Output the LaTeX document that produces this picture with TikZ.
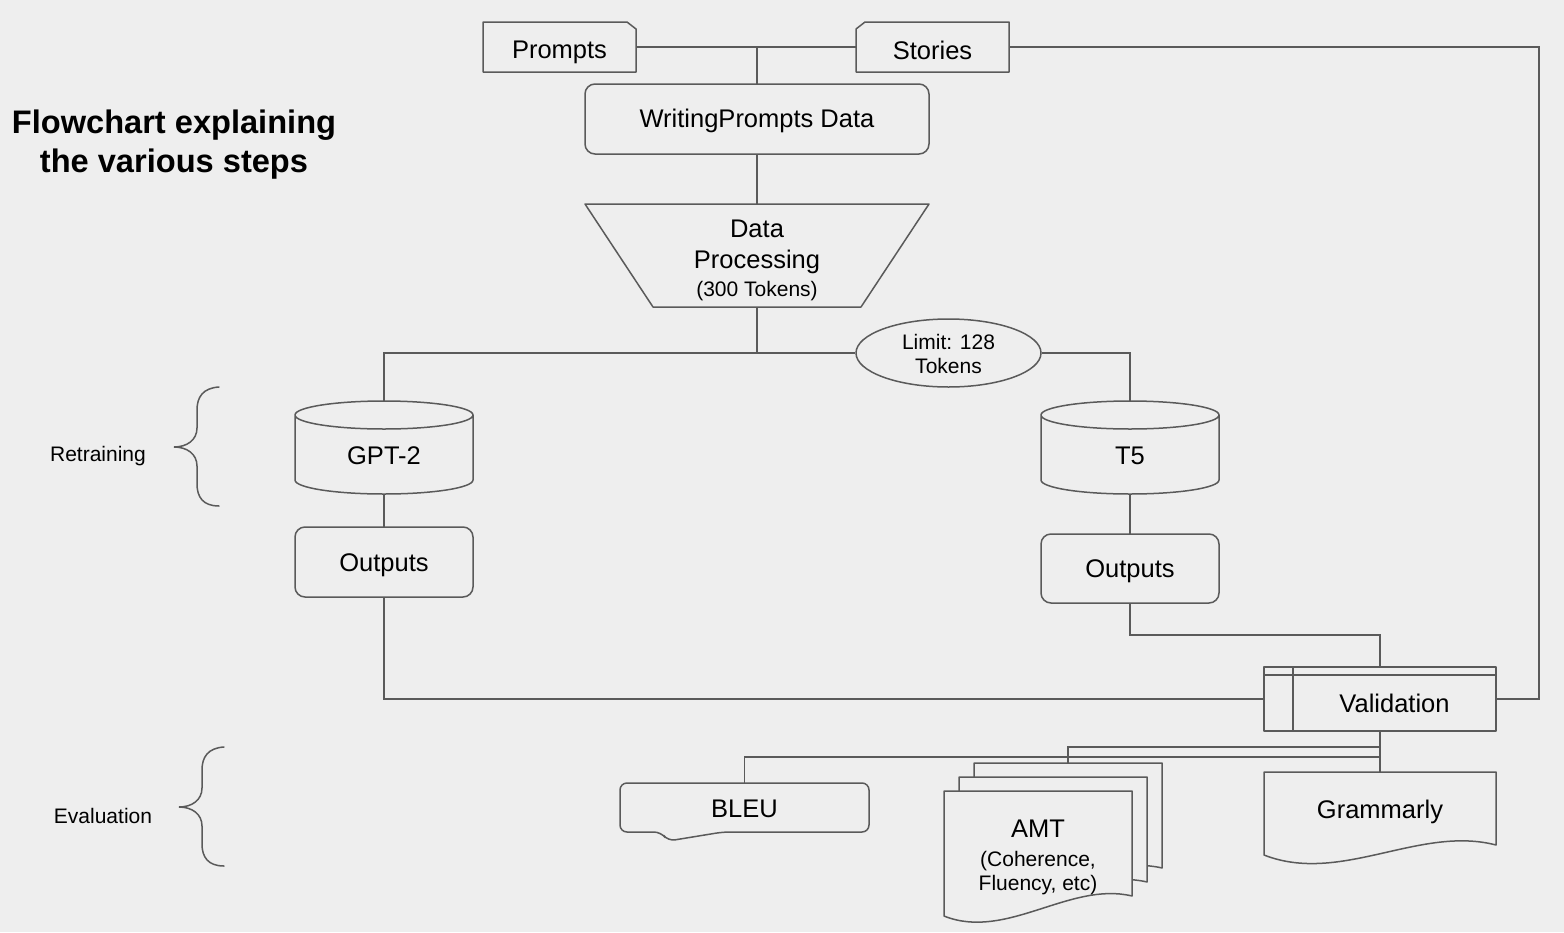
\documentclass[tikz,border=0pt]{standalone}
\usepackage{fontspec}
\setmainfont{Liberation Sans}
\usetikzlibrary{calc,backgrounds,shapes.geometric}
\definecolor{bg}{HTML}{EEEEEE}
\definecolor{lc}{HTML}{5A5A5A}
\newcommand\fmain{\fontsize{25.5}{30.6}\selectfont}
\newcommand\fsmall{\fontsize{21}{24.5}\selectfont}
\newcommand\ftitle{\fontsize{32.6}{39}\selectfont\bfseries}
\pgfdeclarelayer{shapes}
\pgfsetlayers{background,shapes,main}
\tikzset{
  ln/.style={draw=lc, line width=1.5pt},
  sh/.style={ln, fill=bg, line join=round},
  hold/.style={inner sep=0pt, outer sep=0pt, font=\fmain, align=center},
  rbox/.style={sh, rounded corners=10pt, inner sep=0pt, outer sep=0pt, font=\fmain, align=center},
  pics/curlybrace/.style={code={
    \draw[ln, line cap=round] (45,-60) .. controls (29,-59) and (23,-50) .. (23,-37) -- (23,-19)
      .. controls (23,-7) and (13,0) .. (0,0) .. controls (13,0) and (23,7) .. (23,19) -- (23,37)
      .. controls (23,50) and (29,59) .. (45,59);
  }}
}
% document shape: node, right-end rise, control dy 2, control dy 1
\newcommand\docshape[4]{\draw[sh] (#1.north west) -- (#1.north east) -- ($(#1.south east)+(0,#2)$)
  .. controls ($(#1.south west)!0.67!(#1.south east)+(0,#3)$) and ($(#1.south west)!0.33!(#1.south east)+(0,#4)$)
  .. (#1.south west) -- cycle;}
\newcommand\cylshape[1]{\draw[sh] ($(#1.north west)+(0,14)$) -- ($(#1.south west)+(0,-14)$)
  arc[start angle=180, end angle=360, x radius=89pt, y radius=14pt] -- ($(#1.north east)+(0,14)$)
  arc[start angle=0, end angle=360, x radius=89pt, y radius=14pt];}
\begin{document}
\begin{tikzpicture}[x=1pt,y=-1pt]
\useasboundingbox (0,0) rectangle (1564,932);
\begin{pgfonlayer}{background}
  \fill[bg] (0,0) rectangle (1564,932);
\end{pgfonlayer}

% title and side labels
\node[font=\ftitle, align=center] (title) at (174,145) {Flowchart explaining\\the various steps};
\node[font=\fsmall] (retr) at (98,456) {Retraining};
\node[font=\fsmall] (evaln) at (103,816) {Evaluation};
\pic at (174,447) {curlybrace};
\pic at (179,807) {curlybrace};

% nodes
\node[hold, minimum width=153pt, minimum height=50pt, label={[font=\fmain, yshift=-5pt]center:Prompts}] (prompts) at (559.5,47) {};
\node[hold, minimum width=153pt, minimum height=50pt, label={[font=\fmain, yshift=-3pt]center:Stories}] (stories) at (932.5,47) {};
\node[rbox, minimum width=344pt, minimum height=70pt, label={[font=\fmain, yshift=-2pt]center:{WritingPrompts Data}}] (wp) at (757,119) {};
\node[hold, minimum width=344pt, minimum height=103pt, label={[font=\fmain, align=center, yshift=-5pt]center:{Data\\Processing\\[-2pt]{\fsmall (300 Tokens)}}}] (dp) at (757,255.5) {};
\node[sh, ellipse, minimum width=185pt, minimum height=68pt, inner sep=0pt, label={[font=\fsmall, align=center, yshift=-1pt]center:{Limit: 128\\Tokens}}] (lim) at (948.5,353) {};
\node[hold, minimum width=178pt, minimum height=93pt, label={[font=\fmain, yshift=-8pt]center:GPT-2}] (gpt) at (384,447.5) {};
\node[hold, minimum width=178pt, minimum height=93pt, label={[font=\fmain, yshift=-8pt]center:T5}] (t5) at (1130,447.5) {};
\node[rbox, minimum width=178pt, minimum height=70pt, label={[font=\fmain, yshift=-3pt]center:Outputs}] (gout) at (384,562) {};
\node[rbox, minimum width=178pt, minimum height=69pt, label={[font=\fmain, yshift=-3pt]center:Outputs}] (tout) at (1130,568.5) {};
\node[hold, minimum width=232pt, minimum height=64pt, label={[font=\fmain, xshift=14.5pt, yshift=-4pt]center:Validation}] (val) at (1380,699) {};
\node[hold, minimum width=249pt, minimum height=49pt, label={[font=\fmain, yshift=-1pt]center:BLEU}] (bleu) at (744.5,807.5) {};
\node[hold, minimum width=188pt, minimum height=125pt] (amtb) at (1068,825.5) {};
\node[hold, minimum width=188pt, minimum height=125pt] (amtm) at (1053,839.5) {};
\node[hold, minimum width=188pt, minimum height=125pt, label={[font=\fsmall, align=center, yshift=-4pt]center:{{\fmain AMT}\\[4pt](Coherence,\\Fluency, etc)}}] (amt) at (1038,853.5) {};
\node[hold, minimum width=232pt, minimum height=83pt, label={[font=\fmain, yshift=2pt]center:Grammarly}] (gram) at (1380,813.5) {};

% drawn outlines
\begin{pgfonlayer}{shapes}
  \draw[sh] (prompts.south west) -- (prompts.north west) -- ($(prompts.north east)+(-9,0)$)
    -- ($(prompts.north east)+(0,7)$) -- (prompts.south east) -- cycle;
  \draw[sh] (stories.south west) -- ($(stories.north west)+(0,7)$) -- ($(stories.north west)+(9,0)$)
    -- (stories.north east) -- (stories.south east) -- cycle;
  \draw[sh] (dp.north west) -- (dp.north east) -- ($(dp.south east)+(-68,0)$) -- ($(dp.south west)+(68,0)$) -- cycle;
  \cylshape{gpt}
  \cylshape{t5}
  \draw[sh] (val.north west) rectangle (val.south east);
  \draw[ln] ($(val.north west)+(0,8)$) -- ($(val.north east)+(0,8)$);
  \draw[ln] ($(val.north west)+(29,0)$) -- ($(val.south west)+(29,0)$);
  \draw[sh, rounded corners=7pt] ($(bleu.south west)+(41,0)$) -- (bleu.south west) -- (bleu.north west)
    -- (bleu.north east) -- (bleu.south east) -- ($(bleu.south west)+(103,0)$)
    -- ($(bleu.south west)+(48,9)$) -- cycle;
  \docshape{amtb}{-20}{-35}{25}
  \docshape{amtm}{-20}{-35}{25}
  \docshape{amt}{-20}{-35}{25}
  \docshape{gram}{-10}{-30}{30}
\end{pgfonlayer}

% connectors
\begin{pgfonlayer}{background}
  \draw[ln] (prompts.east) -- (stories.west);
  \draw[ln] (wp.north) -- (wp.north |- prompts.east);
  \coordinate (rc) at (1539,47);
  \draw[ln] (stories.east) -- (rc) |- (val.east);
  \draw[ln] (wp.south) -- (dp.north);
  \coordinate (split) at (757,353);
  \draw[ln] (dp.south) -- (split);
  \draw[ln] (gpt.north) |- (lim.west);
  \draw[ln] (lim.east) -| (t5.north);
  \draw[ln] (gpt.south) -- (gout.north);
  \draw[ln] (t5.south) -- (tout.north);
  \draw[ln] (gout.south) |- (val.west);
  \coordinate (tb) at (1130,635);
  \draw[ln] (tout.south) -- (tb) -| (val.north);
  \draw[ln] (val.south) -- (gram.north);
  \coordinate (eb) at (1380,757);
  \draw[ln] (eb) -| (bleu.north);
  \coordinate (ea) at (1380,747);
  \draw[ln] (ea) -| (amtb.north);
\end{pgfonlayer}
\end{tikzpicture}
\end{document}
